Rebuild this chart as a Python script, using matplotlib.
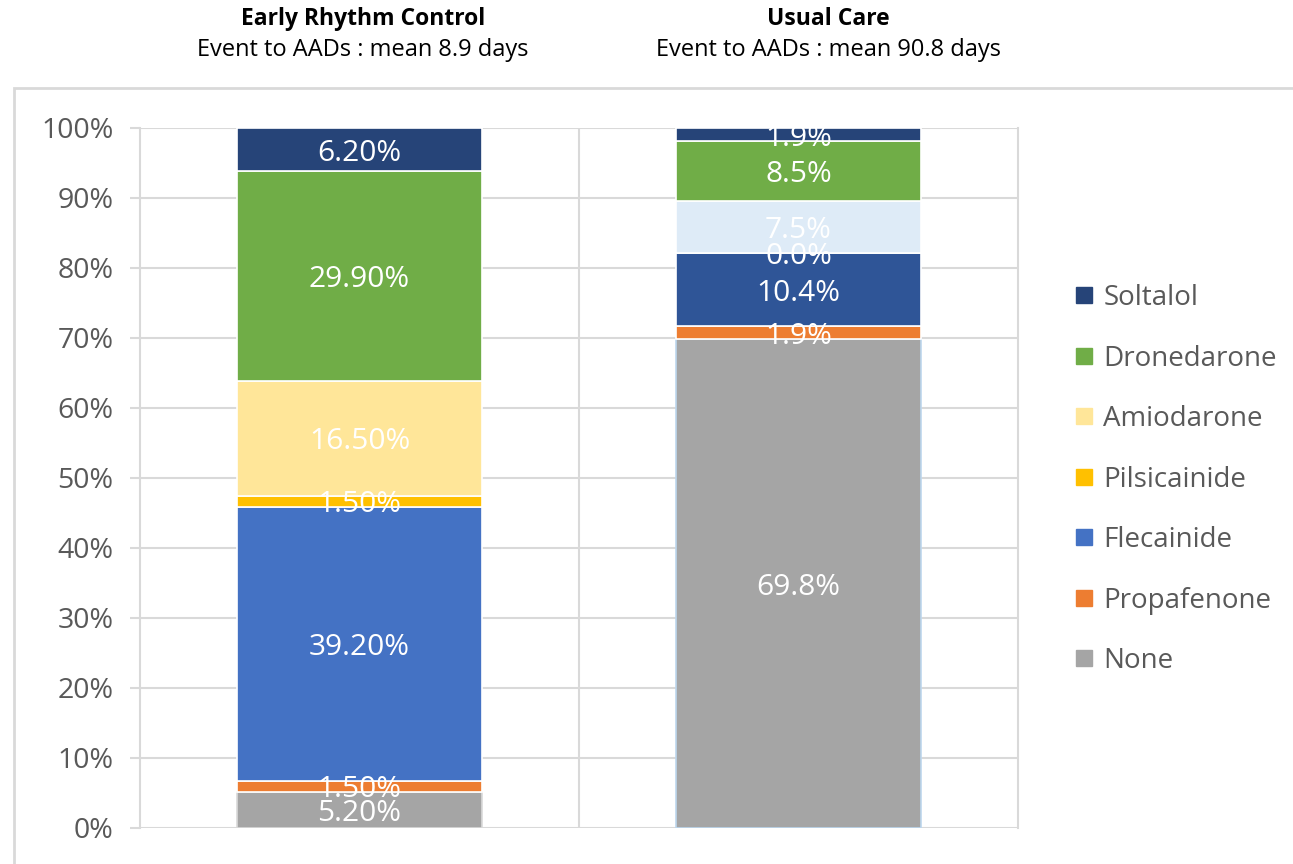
import matplotlib
matplotlib.use("Agg")
import matplotlib.pyplot as plt
from matplotlib.patches import Rectangle
from matplotlib.lines import Line2D
import numpy as np

plt.rcParams['font.family'] = ['Open Sans', 'DejaVu Sans']

groups = ["Early Rhythm Control", "Usual Care"]
subtitles = ["Event to AADs : mean 8.9 days", "Event to AADs : mean 90.8 days"]
drugs = ["None", "Propafenone", "Flecainide", "Pilsicainide", "Amiodarone", "Dronedarone", "Soltalol"]
early_vals = [5.2, 1.5, 39.2, 1.5, 16.5, 29.9, 6.2]
usual_vals = [69.8, 1.9, 10.4, 0.0, 7.5, 8.5, 1.9]
early_labels = ["5.20%", "1.50%", "39.20%", "1.50%", "16.50%", "29.90%", "6.20%"]
usual_labels = ["69.8%", "1.9%", "10.4%", "0.0%", "7.5%", "8.5%", "1.9%"]

early_colors = ["#A5A5A5", "#ED7D31", "#4472C4", "#FFC000", "#FFE699", "#70AD47", "#264478"]
usual_colors = ["#A5A5A5", "#ED7D31", "#2F5597", "#FFC000", "#DEEBF7", "#70AD47", "#264478"]

W, H = 1293, 864
fig = plt.figure(figsize=(W / 100, H / 100), dpi=100)

# outer frame
fig.patches.append(Rectangle((14 / W, -0.05), 1.2, 1 - 88 / H + 0.05, transform=fig.transFigure,
                             fill=False, edgecolor="#D9D9D9", linewidth=2))

ax = fig.add_axes([140 / W, 36 / H, (1018 - 140) / W, (828 - 128) / H])
ax.set_xlim(-0.5, 1.5)
ax.set_ylim(0, 100)

grid_c = "#D9D9D9"
for s in ["top", "bottom"]:
    ax.spines[s].set_visible(False)
for s in ["left", "right"]:
    ax.spines[s].set_color(grid_c)
    ax.spines[s].set_linewidth(1.5)
ax.set_yticks(np.arange(0, 101, 10))
ax.set_yticklabels([f"{v}%" for v in range(0, 101, 10)])
ax.yaxis.grid(True, color=grid_c, linewidth=1.5)
ax.set_axisbelow(True)
ax.axvline(0.5, color=grid_c, linewidth=1.5, zorder=0)
ax.tick_params(axis="y", length=7, width=1.5, color=grid_c, labelsize=20.5, labelcolor="#595959", pad=12)
ax.set_xticks([])

bw = 0.56
for xi, vals, labels, cols in [(0, early_vals, early_labels, early_colors),
                               (1, usual_vals, usual_labels, usual_colors)]:
    bottom = 0.0
    for i, (v, lab, c) in enumerate(zip(vals, labels, cols)):
        ec = "#BDD7EE" if (xi == 1 and i == 0) else ("#D9D9D9" if i == 0 else "white")
        ax.bar(xi, v, bw, bottom=bottom, color=c, edgecolor=ec, linewidth=1.2, zorder=2)
        ax.text(xi, bottom + v / 2, lab, ha="center", va="center_baseline", color="white",
                fontsize=21.5, zorder=3)
        bottom += v

# titles
centers = [363 / W, 828 / W]
for cx, g, st in zip(centers, groups, subtitles):
    fig.text(cx, 1 - 19 / H, g, ha="center", va="center", fontsize=16.5, fontweight="bold", color="black")
    fig.text(cx, 1 - 50 / H, st, ha="center", va="center", fontsize=17, color="black")

# legend
handles = [Line2D([0], [0], marker="s", linestyle="none", markersize=12,
                  markerfacecolor=c, markeredgecolor=c) for c in early_colors]
leg_order = list(range(len(drugs)))[::-1]
leg = fig.legend([handles[i] for i in leg_order], [drugs[i] for i in leg_order],
                 loc="upper left", bbox_to_anchor=(1045 / W, 1 - 259 / H),
                 frameon=False, fontsize=20, labelspacing=1.17, handletextpad=0.2,
                 handlelength=1.0, labelcolor="#595959")

fig.savefig("out.png", dpi=100)
